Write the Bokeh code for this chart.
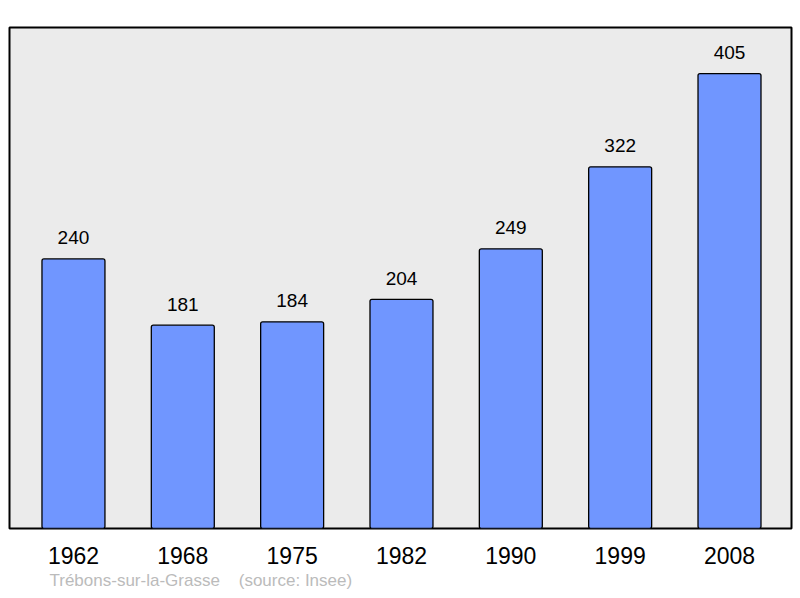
from bokeh.plotting import figure
from bokeh.models import ColumnDataSource, FixedTicker, Range1d, Title
from bokeh.core.properties import value
from bokeh.embed import file_html
from bokeh.resources import INLINE

years = ["1962", "1968", "1975", "1982", "1990", "1999", "2008"]
population = [240, 181, 184, 204, 249, 322, 405]
commune = "Trébons-sur-la-Grasse"
source_note = "(source: Insee)"

xs = list(range(len(years)))
src = ColumnDataSource(dict(x=xs, top=population, label=[str(v) for v in population]))

p = figure(width=798, height=596, output_backend="svg", toolbar_location=None,
           x_range=Range1d(-0.585, 6.567), y_range=Range1d(0, 446),
           min_border_left=9, min_border_right=7, min_border_top=27, min_border_bottom=68)
p.background_fill_color = "#ebebeb"
p.border_fill_color = "white"
p.outline_line_color = "black"
p.outline_line_width = 2
p.grid.visible = False
p.yaxis.visible = False

p.vbar(x="x", top="top", bottom=0, width=0.576, source=src,
       fill_color="#7096ff", line_color="black", line_width=1.3, border_radius=2)

p.text(x="x", y="top", text="label", source=src, text_align="center",
       text_baseline="alphabetic", y_offset=-21, text_font_size="19px",
       text_font=value("Liberation Sans"), text_color="black")

ax = p.xaxis[0]
ax.ticker = FixedTicker(ticks=xs)
ax.major_label_overrides = {i: y for i, y in enumerate(years)}
ax.axis_line_color = None
ax.major_tick_line_color = None
ax.minor_tick_line_color = None
ax.major_tick_out = 0
ax.major_tick_in = 0
ax.major_label_standoff = 18
ax.major_label_text_font_size = "23px"
ax.major_label_text_font = "Liberation Sans"
ax.major_label_text_color = "black"

footer = Title(text=commune + "\u00a0\u00a0\u00a0\u00a0" + source_note, align="left", offset=40,
               standoff=4, text_font_size="17px", text_font="Liberation Sans",
               text_font_style="normal", text_color="#bbbbbb")
p.add_layout(footer, "below")

open("out.html", "w").write(file_html(p, INLINE))
